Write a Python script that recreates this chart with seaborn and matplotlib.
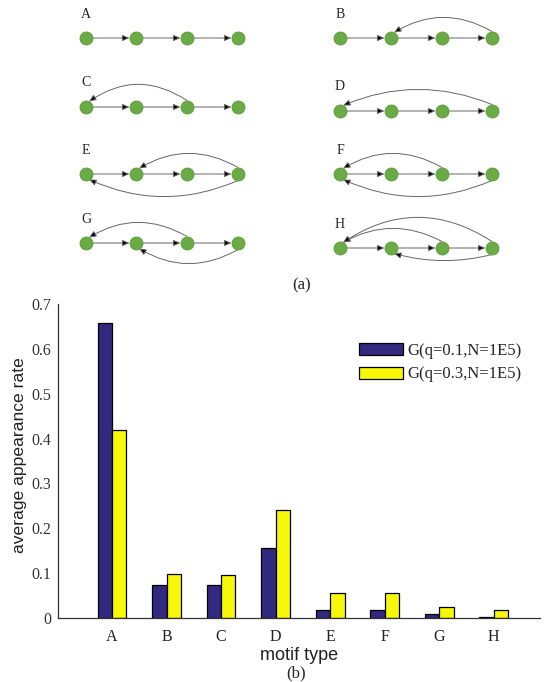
import numpy as np
import pandas as pd
import matplotlib
matplotlib.use("Agg")
import matplotlib.pyplot as plt
from matplotlib.patches import FancyArrowPatch
import seaborn as sns

# bar data (panel b)
motifs = ["A", "B", "C", "D", "E", "F", "G", "H"]
rate_q01 = [0.658, 0.073, 0.073, 0.156, 0.018, 0.018, 0.009, 0.002]
rate_q03 = [0.419, 0.098, 0.096, 0.240, 0.055, 0.056, 0.024, 0.017]
series_names = ["G(q=0.1,N=1E5)", "G(q=0.3,N=1E5)"]
bar_colors = ["#33287f", "#f7f70a"]

# motif diagrams (panel a): back edges (source, target, arc height px; + above, - below)
back_edges = {
    "A": [],
    "B": [(3, 1, 20)],
    "C": [(2, 0, 22)],
    "D": [(3, 0, 21)],
    "E": [(3, 1, 20), (3, 0, -22)],
    "F": [(2, 0, 20), (3, 0, -22)],
    "G": [(2, 0, 20), (3, 1, -20)],
    "H": [(2, 0, 19), (3, 0, 30), (3, 1, -12)],
}
col_x = {0: [86, 136, 187, 238], 1: [340, 391, 442, 492]}
row_y = {"A": 38, "B": 38, "C": 107, "D": 111, "E": 174, "F": 174, "G": 243, "H": 248}

W, H = 544, 682
fig = plt.figure(figsize=(W / 100, H / 100), dpi=100)
sns.set_style("white")
serif = ["Liberation Serif", "DejaVu Serif"]
sans = ["Liberation Sans", "DejaVu Sans"]

# ---- panel (a) ----
top_h = 293
ax0 = fig.add_axes([0, 1 - top_h / H, 1, top_h / H])
ax0.set_xlim(0, W)
ax0.set_ylim(top_h, 0)
ax0.axis("off")

r = 6.5  # node radius px
r_pt = r * 72 / 100
line_col = "#666666"


def arrow(pa, pb, **kw):
    a = FancyArrowPatch(pa, pb, arrowstyle="-|>,head_length=0.7,head_width=0.3", mutation_scale=6,
                        edgecolor=line_col, facecolor="black", lw=0.7, zorder=1, **kw)
    ax0.add_patch(a)


for i, m in enumerate(motifs):
    xs = col_x[i % 2]
    y = row_y[m]
    ax0.text(xs[0], y - 24, m, family=serif, fontsize=10, ha="center", va="center", color="#222222")
    # chain edges
    for k in range(3):
        arrow((xs[k], y), (xs[k + 1], y), shrinkA=r_pt, shrinkB=r_pt)
    for s, t, h in back_edges[m]:
        sgn = 1 if h > 0 else -1
        pa = (xs[s], y - sgn * r)
        pb = (xs[t] + 3, y - sgn * 5.5)
        d = abs(pa[0] - pb[0])
        rad = sgn * 2 * (abs(h) - 5.5) / d
        arrow(pa, pb, shrinkA=0, shrinkB=0, connectionstyle=f"arc3,rad={rad:.3f}")
    ax0.scatter(xs, [y] * 4, s=(2 * r_pt) ** 2, color="#6aab45", edgecolor="#5c9a3b",
                linewidth=0.6, zorder=3)

fig.text(302 / W, 1 - 285 / H, "(a)", family=serif, fontsize=12, ha="center", va="center")

# ---- panel (b) ----
df = pd.DataFrame({
    "motif": motifs * 2,
    "rate": rate_q01 + rate_q03,
    "graph": [series_names[0]] * len(motifs) + [series_names[1]] * len(motifs),
})

ax = fig.add_axes([58 / W, 1 - 618 / H, (540 - 58) / W, (618 - 304) / H])
sns.barplot(data=df, x="motif", y="rate", hue="graph", palette=bar_colors, width=0.53,
            edgecolor="black", linewidth=0.9, saturation=1, ax=ax)

ax.set_ylim(0, 0.7)
ax.set_xlim(-0.99, 7.85)
ax.set_yticks(np.arange(0, 0.71, 0.1))
ax.set_yticklabels(["0"] + [f"{v:.1f}" for v in np.arange(0.1, 0.71, 0.1)])
for lab in ax.get_xticklabels() + ax.get_yticklabels():
    lab.set_family(serif)
    lab.set_fontsize(11.5)
    lab.set_color("#222222")
ax.tick_params(axis="y", direction="in", length=3, width=0.8, colors="#333333", pad=5)
ax.tick_params(axis="x", length=0, pad=8)
for side in ["top", "right"]:
    ax.spines[side].set_visible(False)
for side in ["left", "bottom"]:
    ax.spines[side].set_color("#333333")
    ax.spines[side].set_linewidth(0.9)

ax.set_xlabel("motif type", family=sans, fontsize=13, labelpad=1, color="#222222")
ax.set_ylabel("average appearance rate", family=sans, fontsize=12.6, color="#222222")
ax.yaxis.set_label_coords(-0.064, 0.519)

handles, labels = ax.get_legend_handles_labels()
ax.legend(handles, labels, loc="upper left", bbox_to_anchor=(359 / W, 1 - 343 / H),
          bbox_transform=fig.transFigure, frameon=False, prop={"family": serif, "size": 12},
          handlelength=2.65, handleheight=0.75, handletextpad=0.25, labelspacing=0.45,
          borderpad=0, borderaxespad=0)

fig.text(296 / W, 1 - 673 / H, "(b)", family=serif, fontsize=12, ha="center", va="center")

fig.savefig("out.png", dpi=100)
